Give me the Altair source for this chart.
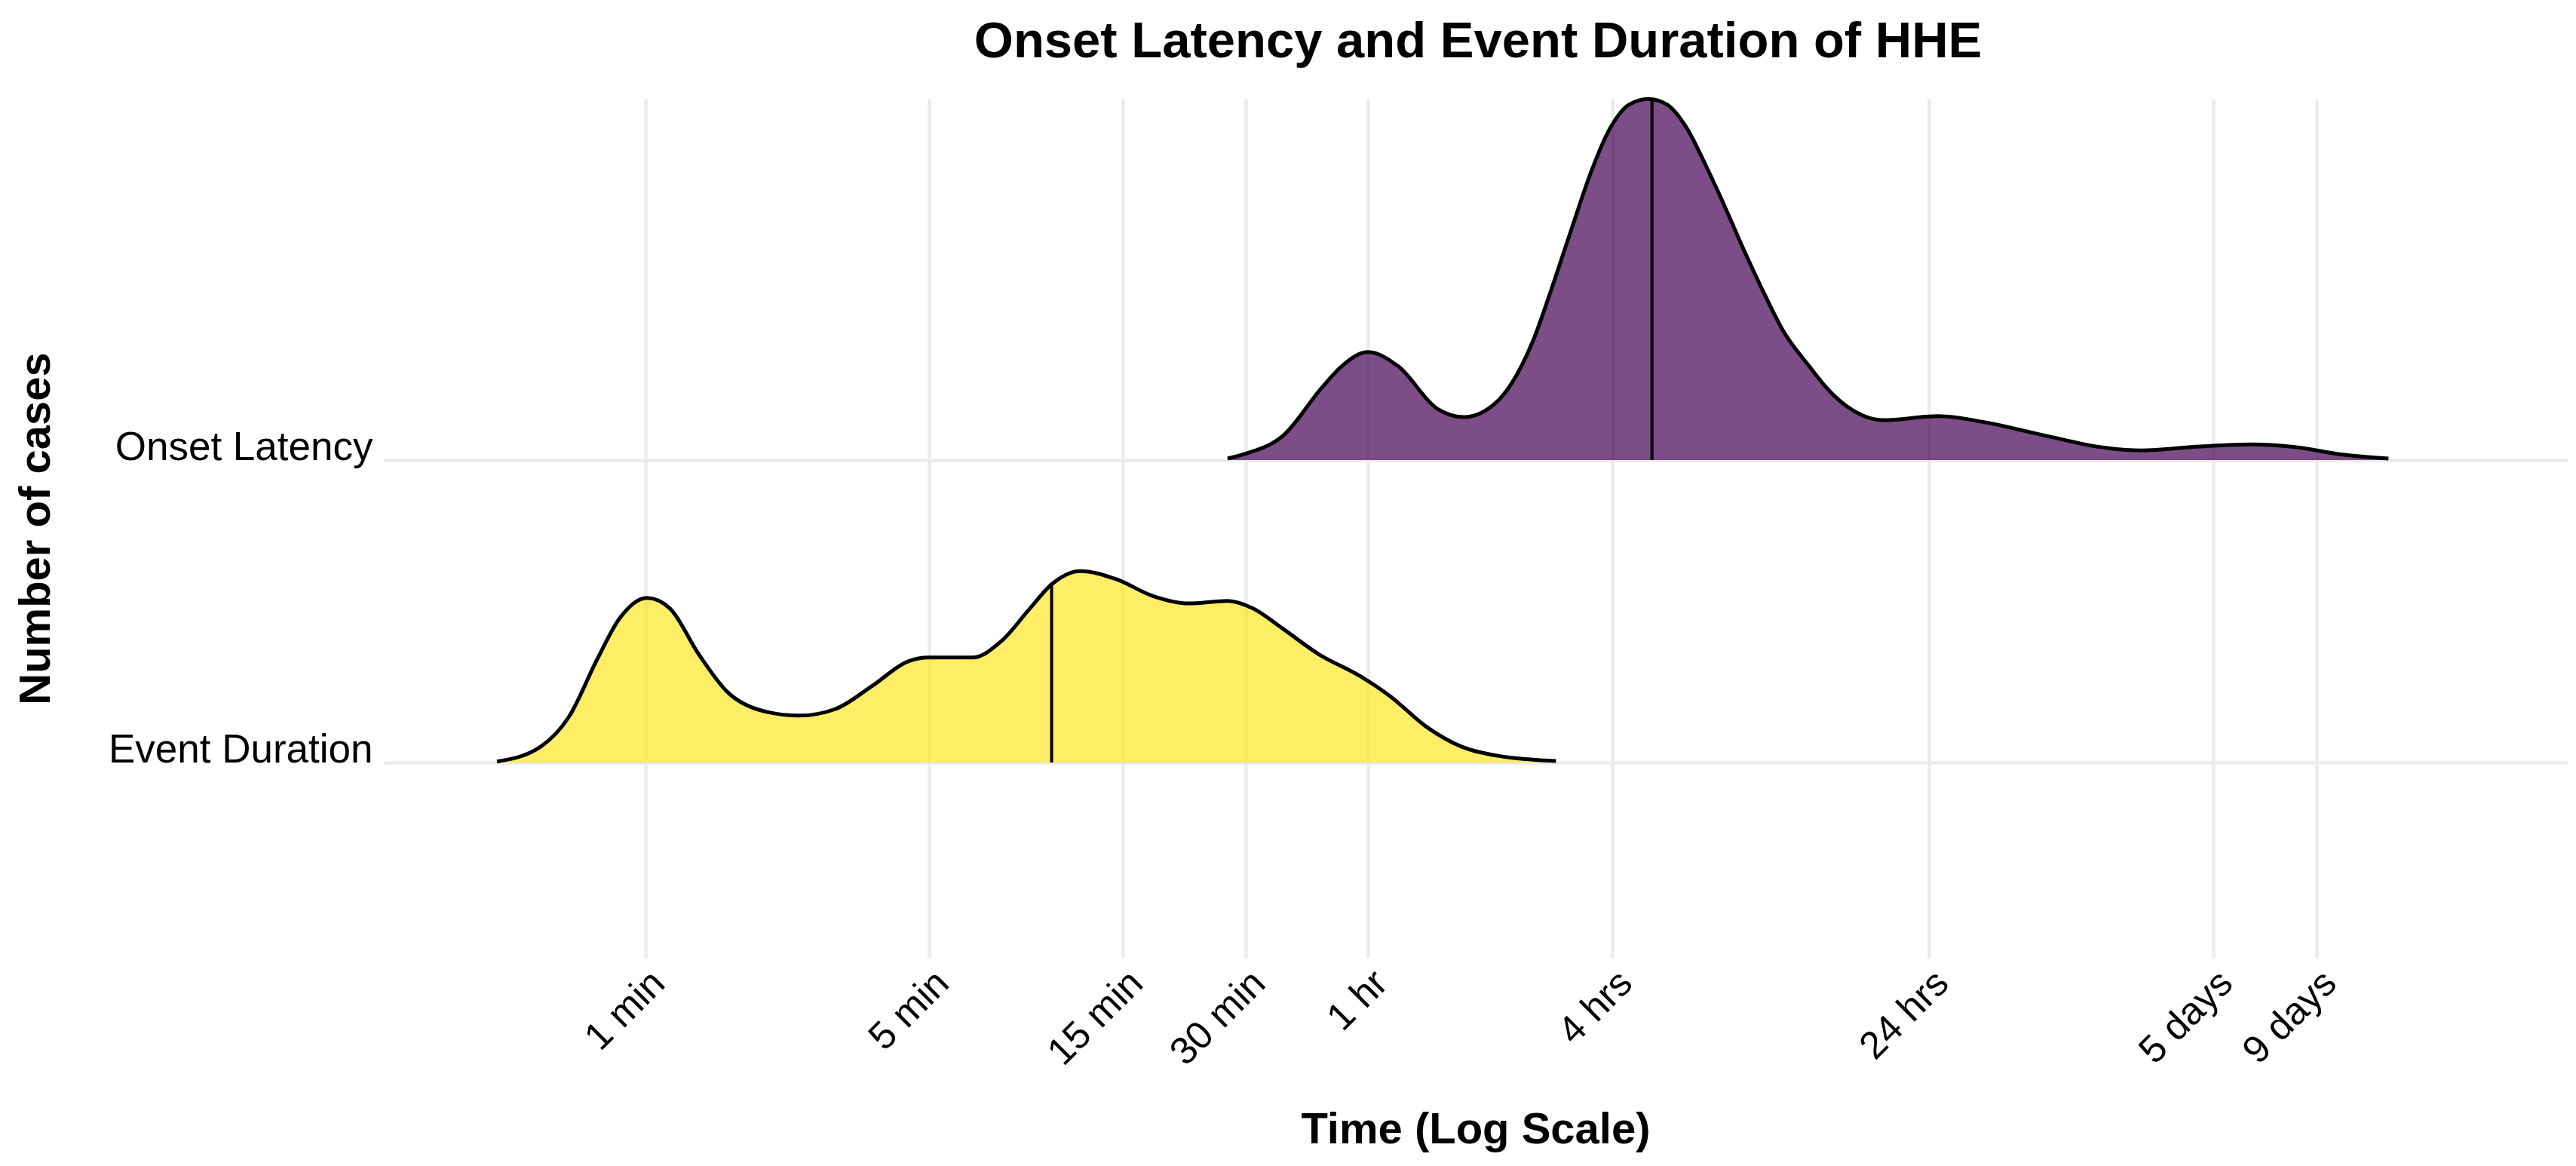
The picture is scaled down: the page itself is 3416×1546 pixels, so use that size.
import altair as alt
import pandas as pd

# ---------------- data ----------------
title_text = "Onset Latency and Event Duration of HHE"
groups = ["Onset Latency", "Event Duration"]
row_positions = [2, 1]                 # ridge baseline of each group
fill_colors = ["#440154", "#FDE725"]

# Onset Latency ridge: time (minutes) and ridge height (in row units)
onset_minutes = [27.1, 29.9, 37.2, 46.2, 51.6, 60, 71.4, 88.8, 103.5, 123.3,
                 153.2, 170.3, 190.4, 211.8, 236.6, 263.2, 294.2, 327.2, 365.6,
                 406.6, 454.3, 505.4, 564.8, 628.5, 729.3, 815, 910.6, 1112,
                 1518, 1977, 2760, 3846, 4800, 6693, 8950, 11660, 14620, 19450]
onset_heights = [0.005, 0.020, 0.082, 0.239, 0.309, 0.357, 0.309, 0.170, 0.142, 0.187,
                 0.397, 0.571, 0.766, 0.948, 1.097, 1.175, 1.194, 1.175, 1.097,
                 0.975, 0.835, 0.693, 0.554, 0.431, 0.312, 0.232, 0.175, 0.132,
                 0.145, 0.125, 0.082, 0.042, 0.032, 0.045, 0.052, 0.042, 0.020, 0.005]

# Event Duration ridge
event_minutes = [0.432, 0.553, 0.650, 0.764, 0.865, 1.01, 1.151, 1.353, 1.591, 1.953,
                 2.397, 2.942, 3.61, 4.43, 4.99, 6.39, 7.52, 8.84, 10.0, 11.75,
                 14.42, 17.71, 21.73, 27.1, 31.3, 36.9, 45.3, 57.7, 68.1, 83.2,
                 102.1, 125.3, 174.1]
event_heights = [0.003, 0.052, 0.152, 0.344, 0.476, 0.544, 0.509, 0.359, 0.234, 0.170,
                 0.155, 0.177, 0.252, 0.334, 0.347, 0.347, 0.401, 0.509, 0.589, 0.633,
                 0.606, 0.551, 0.526, 0.534, 0.509, 0.444, 0.359, 0.284, 0.219, 0.120,
                 0.052, 0.022, 0.005]

# medians (minutes) and ridge height at the median
median_minutes = [300, 10]
median_heights = [1.19, 0.589]

tick_values = [1, 5, 15, 30, 60, 240, 1440, 7200, 12960]
tick_labels = ["1 min", "5 min", "15 min", "30 min", "1 hr", "4 hrs",
               "24 hrs", "5 days", "9 days"]

# ---------------- tables ----------------
onset_df = pd.DataFrame({"minutes": onset_minutes, "height": onset_heights})
onset_df["base"] = row_positions[0]
onset_df["top"] = onset_df["base"] + onset_df["height"]
event_df = pd.DataFrame({"minutes": event_minutes, "height": event_heights})
event_df["base"] = row_positions[1]
event_df["top"] = event_df["base"] + event_df["height"]
medians = pd.DataFrame({"group": groups, "minutes": median_minutes,
                        "height": median_heights, "base": row_positions})
medians["top"] = medians["base"] + medians["height"]
title_df = pd.DataFrame({"t": [title_text]})

x_label_expr = "".join(
    f"datum.value == {v} ? '{l}' : " for v, l in zip(tick_values, tick_labels)
) + "''"
y_label_expr = "".join(
    f"datum.value == {p} ? '{g}' : " for p, g in zip(row_positions, groups)
) + "''"

FONT = "Liberation Sans"
PLOT_W, PLOT_H = 2897, 1139
x_scale = alt.Scale(type="log", domain=[0.2266, 53700], nice=False)
y_scale = alt.Scale(domain=[0.354, 3.1945], nice=False, zero=False)

x_axis = alt.Axis(
    values=tick_values, labelExpr=x_label_expr, title="Time (Log Scale)",
    labelAngle=-45, labelAlign="right", labelBaseline="top", labelPadding=8,
    labelFontSize=51, labelFont=FONT, labelColor="#000000", labelLimit=0,
    titleFontSize=58, titleFont=FONT, titleFontWeight="bold", titleColor="#000000",
    titleY=245, titleBaseline="alphabetic",
    grid=True, gridColor="#EBEBEB", gridWidth=4.5,
    domain=False, ticks=False, labelFlush=False, labelOverlap=False,
)
y_axis = alt.Axis(
    values=row_positions, labelExpr=y_label_expr, title="Number of cases",
    labelAlign="right", labelBaseline="alphabetic", labelPadding=14,
    labelFontSize=53, labelFont=FONT, labelColor="#000000", labelLimit=0,
    titleFontSize=58, titleFont=FONT, titleFontWeight="bold", titleColor="#000000",
    titleAngle=270, titleX=-443, titleY=PLOT_H / 2, titleAlign="center", titleBaseline="alphabetic",
    grid=True, gridColor="#EBEBEB", gridWidth=4.5,
    domain=False, ticks=False, labelFlush=False, labelOverlap=False,
)


def ridge_layers(df, color):
    area = alt.Chart(df).mark_area(interpolate="monotone", color=color, opacity=0.7).encode(
        x=alt.X("minutes:Q", scale=x_scale, axis=x_axis),
        y=alt.Y("top:Q", scale=y_scale, axis=y_axis),
        y2=alt.Y2("base"),
    )
    line = alt.Chart(df).mark_line(interpolate="monotone", color="#000000", strokeWidth=5).encode(
        x=alt.X("minutes:Q", scale=x_scale, axis=x_axis),
        y=alt.Y("top:Q", scale=y_scale, axis=y_axis),
    )
    return [area, line]


median_rule = alt.Chart(medians).mark_rule(color="#000000", strokeWidth=4).encode(
    x=alt.X("minutes:Q", scale=x_scale, axis=x_axis),
    y=alt.Y("base:Q", scale=y_scale, axis=y_axis),
    y2=alt.Y2("top"),
)

title_mark = alt.Chart(title_df).mark_text(
    font=FONT, fontSize=67, fontWeight="bold", color="#000000",
    align="center", baseline="alphabetic",
).encode(
    text="t:N",
    x=alt.value(1452),
    y=alt.value(-55),
)

layers = (ridge_layers(onset_df, fill_colors[0]) + ridge_layers(event_df, fill_colors[1])
          + [median_rule, title_mark])

chart = alt.layer(*layers).properties(
    width=PLOT_W,
    height=PLOT_H,
    autosize=alt.AutoSizeParams(type="none"),
    padding={"left": 500, "top": 123, "right": 3, "bottom": 262},
    background="#FFFFFF",
).configure_view(stroke=None)

chart.save("out.html", embed_options={"renderer": "svg", "actions": False})
